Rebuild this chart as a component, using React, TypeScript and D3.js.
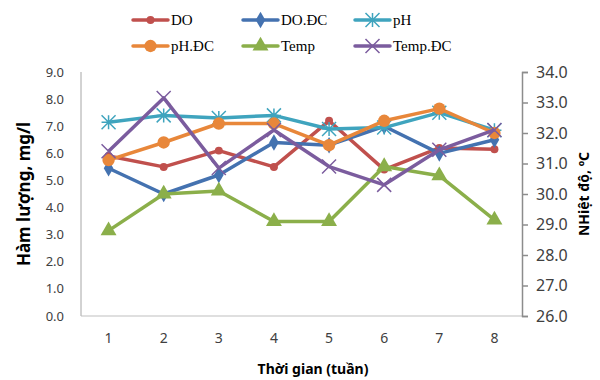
import { useEffect, useRef } from "react";
import * as d3 from "d3";

const weeks = ["1", "2", "3", "4", "5", "6", "7", "8"];
const doVals = [5.9, 5.5, 6.1, 5.5, 7.2, 5.4, 6.2, 6.15];
const doDC = [5.45, 4.5, 5.2, 6.4, 6.3, 7.0, 6.0, 6.5];
const phVals = [7.15, 7.4, 7.3, 7.4, 6.9, 6.95, 7.5, 6.85];
const phDC = [5.75, 6.4, 7.1, 7.1, 6.3, 7.2, 7.65, 6.75];
const tempVals = [28.8, 30.0, 30.1, 29.1, 29.1, 30.9, 30.6, 29.15];
const tempDC = [31.4, 33.15, 30.85, 32.1, 30.9, 30.3, 31.45, 32.1];
const leftTicks = [0, 1, 2, 3, 4, 5, 6, 7, 8, 9];
const rightTicks = [26, 27, 28, 29, 30, 31, 32, 33, 34];

type Series = { name: string; values: number[]; color: string; marker: string; axis: "l" | "r" };

const series: Series[] = [
  { name: "DO", values: doVals, color: "#C0504D", marker: "smallcircle", axis: "l" },
  { name: "DO.ĐC", values: doDC, color: "#4472B0", marker: "diamond", axis: "l" },
  { name: "pH", values: phVals, color: "#3FA4BE", marker: "star", axis: "l" },
  { name: "pH.ĐC", values: phDC, color: "#E8873A", marker: "circle", axis: "l" },
  { name: "Temp", values: tempVals, color: "#8BAF4A", marker: "triangle", axis: "r" },
  { name: "Temp.ĐC", values: tempDC, color: "#7B5C9E", marker: "cross", axis: "r" },
];

function drawMarker(g: any, kind: string, x: number, y: number, color: string) {
  if (kind === "star" || kind === "cross") {
    const r = 7;
    const p = d3.path();
    p.moveTo(x - r, y - r); p.lineTo(x + r, y + r);
    p.moveTo(x - r, y + r); p.lineTo(x + r, y - r);
    if (kind === "star") {
      p.moveTo(x, y - r); p.lineTo(x, y + r);
      p.moveTo(x - r, y); p.lineTo(x + r, y);
    }
    g.append("path").attr("d", p.toString()).attr("stroke", color).attr("stroke-width", 1.5).attr("fill", "none");
    return;
  }
  const sym =
    kind === "diamond" ? d3.symbolDiamond :
    kind === "triangle" ? d3.symbolTriangle : d3.symbolCircle;
  const size = kind === "smallcircle" ? 50 : kind === "circle" ? 120 : kind === "diamond" ? 80 : 110;
  g.append("path")
    .attr("d", d3.symbol().type(sym).size(size)())
    .attr("transform", `translate(${x},${y})`)
    .attr("fill", color);
}

export default function App() {
  const ref = useRef<SVGSVGElement>(null);

  useEffect(() => {
    const svg = d3.select(ref.current);
    svg.selectAll("*").remove();

    const left = 81, right = 522, top = 72, bottom = 316;
    const x = d3.scalePoint().domain(weeks).range([left, right]).padding(0.5);
    const yL = d3.scaleLinear().domain([0, 9]).range([bottom, top]);
    const yR = d3.scaleLinear().domain([26, 34]).range([bottom, top]);

    // frame lines
    svg.append("line").attr("x1", left).attr("x2", left).attr("y1", top).attr("y2", bottom).attr("stroke", "#A6A6A6");
    svg.append("line").attr("x1", left).attr("x2", right).attr("y1", bottom).attr("y2", bottom).attr("stroke", "#BFBFBF");

    // left axis labels
    svg.append("g").selectAll("text").data(leftTicks).join("text")
      .attr("x", 64).attr("y", (d: number) => yL(d)).attr("dy", "0.35em")
      .attr("text-anchor", "end")
      .style("font", "13px 'Noto Sans', sans-serif").attr("fill", "#404040")
      .text((d: number) => d.toFixed(1));

    // right axis
    const rAxis = d3.axisRight(yR).tickValues(rightTicks).tickSize(6).tickPadding(8)
      .tickFormat((d: any) => (+d).toFixed(1));
    const rg = svg.append("g").attr("transform", `translate(${right},0)`).call(rAxis as any);
    rg.select(".domain").attr("stroke", "#8C8C8C").attr("stroke-width", 1.5);
    rg.selectAll(".tick line").attr("stroke", "#8C8C8C").attr("stroke-width", 1.5);
    rg.selectAll(".tick text").style("font", "16px 'Noto Sans', sans-serif").attr("fill", "#404040");

    // x labels
    svg.append("g").selectAll("text").data(weeks).join("text")
      .attr("x", (d: string) => x(d)!).attr("y", 343)
      .attr("text-anchor", "middle")
      .style("font", "14px 'Noto Sans', sans-serif").attr("fill", "#404040")
      .text((d: string) => d);

    // axis titles
    svg.append("text").attr("transform", `translate(30,194) rotate(-90)`)
      .attr("text-anchor", "middle")
      .style("font", "bold 17px 'Noto Sans', sans-serif").attr("fill", "#000")
      .text("Hàm lượng, mg/l");
    svg.append("text").attr("transform", `translate(589,194) rotate(-90)`)
      .attr("text-anchor", "middle")
      .style("font", "bold 14px 'Noto Sans', sans-serif").attr("fill", "#000")
      .text("NHiệt độ, ºC");
    svg.append("text").attr("x", 313).attr("y", 374)
      .attr("text-anchor", "middle")
      .style("font", "bold 14px 'Noto Sans', sans-serif").attr("fill", "#000")
      .text("Thời gian (tuần)");

    // series
    series.forEach((s) => {
      const yS = s.axis === "l" ? yL : yR;
      const g = svg.append("g");
      const line = d3.line<number>().x((_, i) => x(weeks[i])!).y((d) => yS(d));
      g.append("path").attr("d", line(s.values)).attr("fill", "none")
        .attr("stroke", s.color).attr("stroke-width", 3.5).attr("stroke-linejoin", "round");
      s.values.forEach((v, i) => drawMarker(g, s.marker, x(weeks[i])!, yS(v), s.color));
    });

    // legend
    const legX = [133, 243, 355];
    const legY = [20, 46];
    series.forEach((s, i) => {
      const lx = legX[i % 3], ly = legY[Math.floor(i / 3)];
      const g = svg.append("g");
      g.append("line").attr("x1", lx).attr("x2", lx + 35).attr("y1", ly).attr("y2", ly)
        .attr("stroke", s.color).attr("stroke-width", 3.5).attr("stroke-linecap", "round");
      drawMarker(g, s.marker, lx + 17.5, ly, s.color);
      g.append("text").attr("x", lx + 38).attr("y", ly).attr("dy", "0.35em")
        .style("font", "15px 'Liberation Serif', serif").attr("fill", "#000")
        .text(s.name);
    });
  }, []);

  return (
    <svg ref={ref} width={600} height={380}
      style={{ position: "absolute", left: 0, top: 0, background: "#fff" }} />
  );
}
